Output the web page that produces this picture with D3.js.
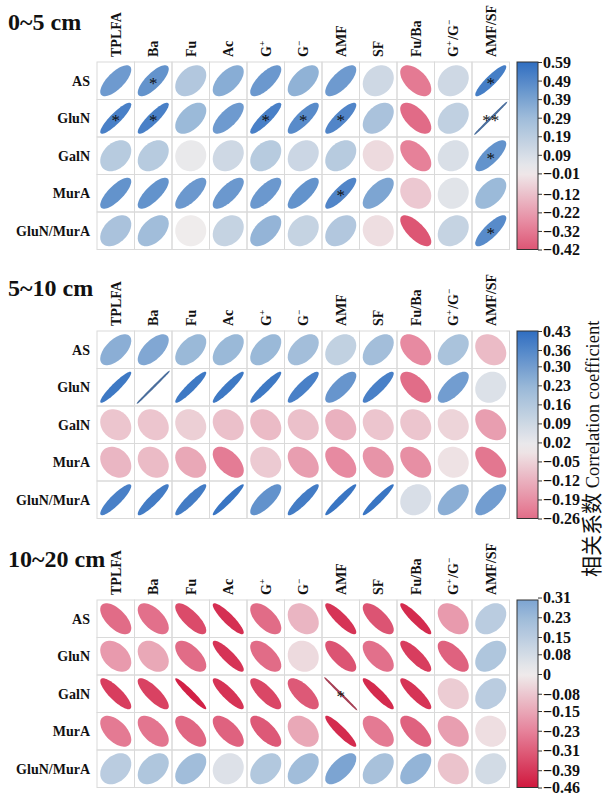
<!DOCTYPE html>
<html>
<head>
<meta charset="utf-8">
<script src="https://cdn.jsdelivr.net/npm/d3@7"></script>
<style>
  body { margin: 0; background: #fff; }
  svg { display: block; }
  .title { font-family: "Liberation Serif", serif; font-weight: bold; font-size: 24px; fill: #111; }
  .lab { font-family: "Liberation Serif", serif; font-weight: bold; font-size: 14px; fill: #111; }
  .cb text { font-family: "Liberation Serif", serif; font-weight: bold; font-size: 16px; fill: #111; }
  .star { font-family: "Liberation Serif", serif; font-size: 17px; fill: #111; }
</style>
</head>
<body>
<svg id="chart"></svg>
<script>
// column / row variables
const cols = ['TPLFA', 'Ba', 'Fu', 'Ac', 'G+', 'G-', 'AMF', 'SF', 'Fu/Ba', 'G+/G-', 'AMF/SF'];
const rows = ['AS', 'GluN', 'GalN', 'MurA', 'GluN/MurA'];
const titles = ['0~5 cm', '5~10 cm', '10~20 cm'];

// correlation coefficients (rows x cols)
const r05 = [
  [0.42, 0.45, 0.22, 0.35, 0.43, 0.33, 0.42, 0.12, -0.32, 0.12, 0.53],
  [0.52, 0.52, 0.30, 0.42, 0.52, 0.48, 0.50, 0.25, -0.36, 0.17, 0.59],
  [0.20, 0.20, 0.02, 0.12, 0.20, 0.13, 0.20, -0.05, -0.30, 0.08, 0.45],
  [0.45, 0.45, 0.43, 0.43, 0.43, 0.45, 0.50, 0.38, -0.10, 0.05, 0.30],
  [0.25, 0.28, 0.00, 0.15, 0.32, 0.15, 0.22, -0.04, -0.42, 0.15, 0.48]
];
const r510 = [
  [0.25, 0.27, 0.22, 0.22, 0.22, 0.20, 0.12, 0.20, -0.20, 0.18, -0.10],
  [0.40, 0.43, 0.40, 0.40, 0.40, 0.38, 0.32, 0.38, -0.26, 0.30, 0.05],
  [-0.08, -0.08, -0.06, -0.09, -0.10, -0.09, -0.12, -0.08, -0.08, -0.05, -0.16],
  [-0.11, -0.10, -0.14, -0.23, -0.07, -0.16, -0.20, -0.18, -0.19, -0.02, -0.24],
  [0.38, 0.39, 0.39, 0.41, 0.33, 0.39, 0.41, 0.41, 0.06, 0.25, 0.30]
];
const r1020 = [
  [-0.28, -0.27, -0.35, -0.41, -0.28, -0.12, -0.40, -0.33, -0.42, -0.18, 0.15],
  [-0.18, -0.15, -0.28, -0.40, -0.28, -0.04, -0.33, -0.27, -0.38, -0.30, 0.18],
  [-0.38, -0.37, -0.44, -0.40, -0.36, -0.32, -0.46, -0.42, -0.40, -0.07, 0.15],
  [-0.25, -0.26, -0.29, -0.30, -0.32, -0.15, -0.42, -0.25, -0.30, -0.17, -0.03],
  [0.15, 0.18, 0.22, 0.05, 0.17, 0.22, 0.30, 0.20, 0.25, -0.09, 0.08]
];

// significance marks: [row, col, mark]
const sig05 = [[0, 1, '*'], [0, 10, '*'], [1, 0, '*'], [1, 1, '*'], [1, 4, '*'], [1, 5, '*'], [1, 6, '*'],
  [1, 10, '**'], [2, 10, '*'], [3, 6, '*'], [4, 10, '*']];
const sig510 = [];
const sig1020 = [[2, 6, '*']];

// colour bar tick labels
const ticks05 = [0.59, 0.49, 0.39, 0.29, 0.19, 0.09, -0.01, -0.12, -0.22, -0.32, -0.42];
const ticks510 = [0.43, 0.36, 0.30, 0.23, 0.16, 0.09, 0.02, -0.05, -0.12, -0.19, -0.26];
const ticks1020 = [0.31, 0.23, 0.15, 0.08, 0, -0.08, -0.15, -0.23, -0.31, -0.39, -0.46];

const panels = [
  {title: titles[0], r: r05, sig: sig05, ticks: ticks05, top: 62, titleY: 30},
  {title: titles[1], r: r510, sig: sig510, ticks: ticks510, top: 331, titleY: 296},
  {title: titles[2], r: r1020, sig: sig1020, ticks: ticks1020, top: 600, titleY: 567}
];

const W = 605, H = 796;
const cell = 37.5;
const left = 97;
const svg = d3.select('#chart').attr('width', W).attr('height', H);
const defs = svg.append('defs');

// ellipse outline for a (normalised) correlation, corrplot style
function ellipsePath(rr, s) {
  const d = Math.acos(Math.max(-1, Math.min(1, rr)));
  const pts = d3.range(0, 61).map(i => {
    const t = i / 60 * 2 * Math.PI;
    return [s * Math.cos(t + d / 2), -s * Math.cos(t - d / 2)];
  });
  return d3.line()(pts) + 'Z';
}

// label with G+ / G- superscripts
function writeLabel(sel, name) {
  const parts = name.split(/([+-])/);
  parts.forEach(p => {
    if (p === '+' || p === '-') {
      sel.append('tspan').attr('font-size', 9).attr('dy', -6).text(p === '+' ? '+' : '\u2212');
      sel.append('tspan').attr('font-size', 14).attr('dy', 6).text('\u200a');
    } else if (p.length) {
      sel.append('tspan').text(p);
    }
  });
}

panels.forEach((p, pi) => {
  const g = svg.append('g');
  const x = d3.scaleBand().domain(cols).range([left, left + cell * cols.length]);
  const y = d3.scaleBand().domain(rows).range([p.top, p.top + cell * rows.length]);

  const flat = p.r.flat();
  const lo = d3.min(flat), hi = d3.max(flat);
  const m = Math.max(Math.abs(lo), Math.abs(hi));
  const color = d3.scaleLinear()
      .domain([-m, -m / 2, 0, m / 2, m])
      .range(['#d0183e', '#e6839b', '#efecec', '#9dbbd9', '#2f6ec1'])
      .interpolate(d3.interpolateRgb);

  // title
  svg.append('text').attr('class', 'title').attr('x', 8).attr('y', p.titleY).text(p.title);

  // grid cells
  const cells = [];
  rows.forEach((rn, i) => cols.forEach((cn, j) => cells.push({row: rn, col: cn, i, j, v: p.r[i][j]})));

  g.selectAll('.cellbox')
      .data(cells)
      .join('rect')
      .attr('x', d => x(d.col))
      .attr('y', d => y(d.row))
      .attr('width', x.bandwidth())
      .attr('height', y.bandwidth())
      .attr('fill', 'none')
      .attr('stroke', '#dadada')
      .attr('stroke-width', 1);

  // ellipses
  g.selectAll('.ell')
      .data(cells)
      .join('path')
      .attr('transform', d => `translate(${x(d.col) + x.bandwidth() / 2},${y(d.row) + y.bandwidth() / 2})`)
      .attr('d', d => ellipsePath(d.v / m * 0.999, 15.5))
      .attr('fill', d => color(d.v))
      .attr('stroke', d => Math.abs(d.v) >= m ? d3.interpolateRgb(color(d.v), '#707070')(0.45) : 'none')
      .attr('stroke-width', 1.3);

  // stars
  g.selectAll('.star')
      .data(p.sig)
      .join('text')
      .attr('class', 'star')
      .attr('text-anchor', 'middle')
      .attr('x', d => x(cols[d[1]]) + x.bandwidth() / 2)
      .attr('y', d => y(rows[d[0]]) + y.bandwidth() / 2 + 8)
      .text(d => d[2]);

  // row labels
  g.selectAll('.rowlab')
      .data(rows)
      .join('text')
      .attr('class', 'lab')
      .attr('text-anchor', 'end')
      .attr('x', left - 7)
      .attr('y', d => y(d) + y.bandwidth() / 2 + 5)
      .text(d => d);

  // column labels
  g.selectAll('.collab')
      .data(cols)
      .join('text')
      .attr('class', 'lab')
      .attr('transform', d => `translate(${x(d) + x.bandwidth() / 2 + 5},${p.top - 5}) rotate(-90)`)
      .each(function(d) { writeLabel(d3.select(this), d); });

  // colour bar
  const cbX = 517, cbW = 21;
  const cbTop = p.top, cbBot = p.top + cell * rows.length;
  const gid = 'grad' + pi;
  const grad = defs.append('linearGradient').attr('id', gid)
      .attr('x1', 0).attr('y1', 1).attr('x2', 0).attr('y2', 0);
  d3.range(0, 21).forEach(k => {
    const v = lo + (hi - lo) * k / 20;
    grad.append('stop').attr('offset', k / 20).attr('stop-color', color(v));
  });
  svg.append('rect')
      .attr('x', cbX).attr('y', cbTop).attr('width', cbW).attr('height', cbBot - cbTop)
      .attr('fill', `url(#${gid})`)
      .attr('stroke', '#333').attr('stroke-width', 1);

  const cbScale = d3.scaleLinear().domain([lo, hi]).range([cbBot, cbTop]);
  const cbAxis = d3.axisRight(cbScale)
      .tickValues(p.ticks)
      .tickSize(4)
      .tickPadding(1)
      .tickFormat(d => d === 0 ? '0' : d3.format('.2f')(d));
  const ax = svg.append('g')
      .attr('class', 'cb')
      .attr('transform', `translate(${cbX + cbW},0)`)
      .call(cbAxis);
  ax.select('.domain').remove();
  ax.selectAll('.tick line').attr('stroke', '#333');
  ax.selectAll('.tick text').attr('dy', '0.34em');
});

// colour bar title
const ct = svg.append('text')
    .attr('transform', 'translate(599,577) rotate(-90)')
    .attr('font-family', '"Liberation Serif", "Noto Sans CJK SC", serif')
    .attr('fill', '#111');
ct.append('tspan').attr('font-family', '"Noto Sans CJK SC"').attr('font-size', 21).text('相关系数 ');
ct.append('tspan').attr('font-size', 18.5).text('Correlation coefficient');
</script>
</body>
</html>
